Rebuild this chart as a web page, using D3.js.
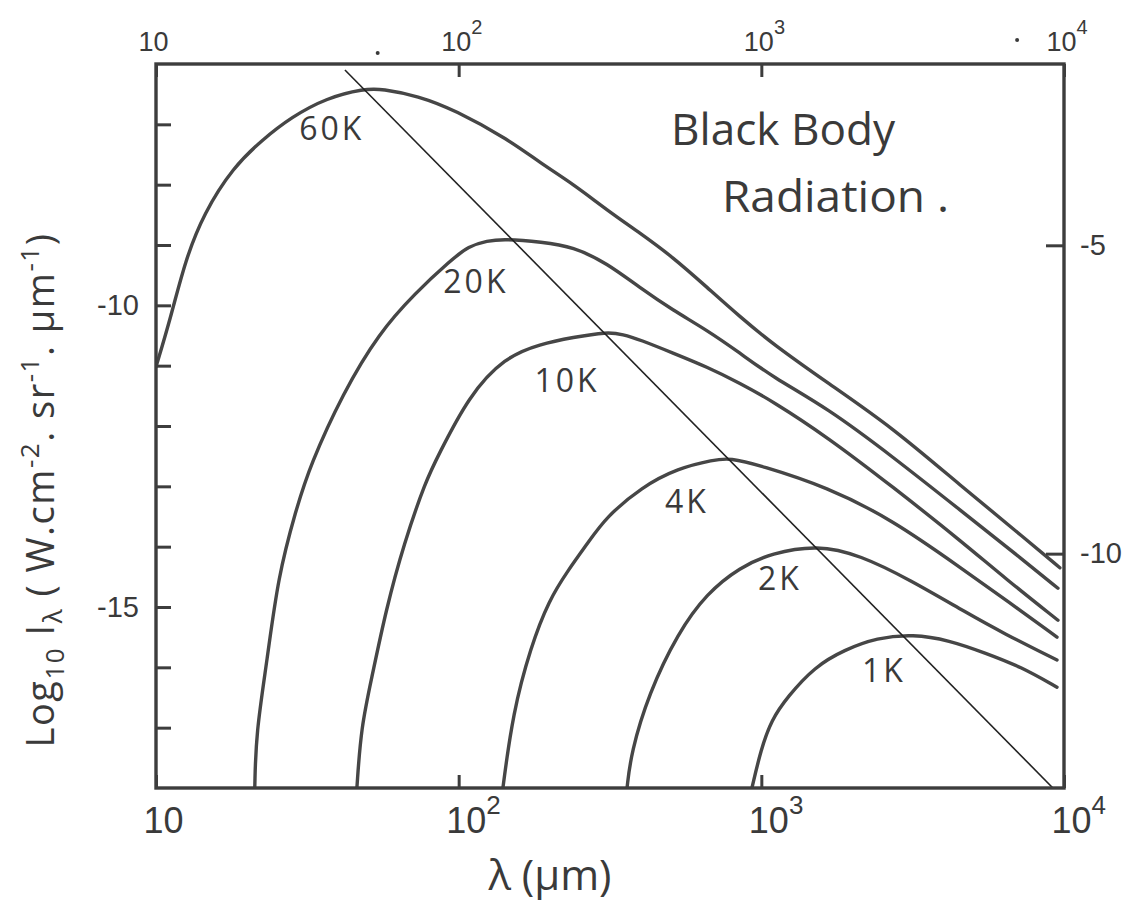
<!DOCTYPE html>
<html>
<head>
<meta charset="utf-8">
<script src="https://cdn.jsdelivr.net/npm/d3@7"></script>
<style>
body { margin: 0; background: #fff; }
svg { display: block; font-family: "Open Sans", "DejaVu Sans", sans-serif; }
.curve { fill: none; stroke: #464646; stroke-width: 3.4; stroke-linecap: round; stroke-linejoin: round; }
.wien { fill: none; stroke: #222; stroke-width: 1.6; }
.frame { fill: none; stroke: #3d3d3d; stroke-width: 3.4; }
.axis path.domain { display: none; }
.axis line { stroke: #3d3d3d; stroke-width: 3; }
.axis text { fill: #3a3a3a; }
.lbl { fill: #3a3a3a; }
</style>
</head>
<body>
<div id="chart"></div>
<script>
// wavelength in um, log10 intensity (left scale)
var temps = ["60K", "20K", "10K", "4K", "2K", "1K"];

var lam60 = [10, 11.2, 12.5, 14.4, 18, 22.4, 28, 36.7, 48.7, 55.8, 73.4, 97, 147, 186, 239, 309, 397, 510, 661, 850, 1090, 1650, 2720, 4530, 7540, 9690];
var log60 = [-11.02, -10.19, -9.25, -8.47, -7.71, -7.26, -6.88, -6.56, -6.41, -6.41, -6.53, -6.76, -7.26, -7.64, -7.99, -8.42, -8.80, -9.20, -9.70, -10.19, -10.64, -11.28, -12.03, -12.98, -13.89, -14.35];

var lam20 = [21.2, 21.4, 23.3, 25.3, 29.0, 32.3, 41.5, 54.5, 71.7, 94.3, 108, 124, 142, 188, 239, 309, 397, 510, 661, 850, 1090, 1650, 2720, 4530, 7540, 9550];
var log20 = [-18, -17.09, -15.88, -14.50, -13.39, -12.65, -11.45, -10.46, -9.80, -9.25, -9.02, -8.93, -8.90, -8.95, -9.03, -9.30, -9.71, -10.08, -10.41, -10.79, -11.19, -11.70, -12.51, -13.39, -14.27, -14.69];

var lam10 = [46.1, 47.6, 51.7, 57.5, 66.0, 78.0, 85.4, 108, 142, 186, 239, 309, 349, 397, 510, 661, 850, 1090, 1650, 2720, 4530, 6480, 9550];
var log10v = [-18, -16.99, -16.16, -15.05, -13.94, -12.90, -12.50, -11.50, -10.86, -10.64, -10.53, -10.44, -10.48, -10.57, -10.79, -11.02, -11.29, -11.59, -12.18, -13.01, -13.89, -14.55, -15.22];

var lam4 = [140, 151, 173, 199, 230, 267, 307, 403, 530, 697, 788, 989, 1650, 2720, 4530, 6630, 9480];
var log4 = [-18, -16.76, -15.66, -14.88, -14.39, -13.94, -13.51, -13.01, -12.70, -12.56, -12.53, -12.65, -13.01, -13.56, -14.34, -14.93, -15.50];

var lam2 = [360, 371, 425, 530, 661, 850, 1080, 1530, 2120, 3100, 4780, 6280, 9480];
var log2 = [-18, -17.42, -16.43, -15.43, -14.77, -14.34, -14.11, -13.97, -14.14, -14.55, -15.10, -15.43, -15.88];

var lam1 = [931, 996, 1080, 1220, 1500, 1880, 2410, 3170, 4170, 5480, 7200, 9480];
var log1 = [-18, -17.37, -16.87, -16.49, -15.99, -15.71, -15.51, -15.45, -15.55, -15.76, -15.99, -16.33];

// peak line (Wien)
var wienLam = [42.1, 9190];
var wienLog = [-6.1, -18];

// where the temperature labels sit
var labelLam = [38.1, 114, 228, 568, 1152, 2542];
var labelLog = [-7.26, -9.80, -11.44, -13.44, -14.72, -16.24];

var xTicks = [10, 100, 1000, 10000];
var xExp = ["", "2", "3", "4"];
var topDots = [54, 7000];   // stray pencil dots above the frame
var leftTicks = [-7, -8, -9, -10, -11, -12, -13, -14, -15, -16, -17];
var leftLabels = [-10, -15];
var rightTicks = [-5, -10];

/////////////////////////////////////////////////////////////

function drawChart() {
	var svgWidth = 1138, svgHeight = 921;
	var pl = 156, pr = 1064, pt = 64, pb = 788;

	var svg = d3.select("#chart").append("svg")
		.attr("width", svgWidth)
		.attr("height", svgHeight);

	var x = d3.scaleLog().domain([10, 10000]).range([pl, pr]);
	var yL = d3.scaleLinear().domain([-18, -6]).range([pb, pt]);
	var yR = d3.scaleLinear().domain([-13.8, -2.06]).range([pb, pt]);

	svg.append("defs").append("clipPath").attr("id", "plot")
		.append("rect")
		.attr("x", pl).attr("y", pt)
		.attr("width", pr - pl).attr("height", pb - pt);

	var series = [
		[lam60, log60], [lam20, log20], [lam10, log10v],
		[lam4, log4], [lam2, log2], [lam1, log1]
	];

	var line = d3.line()
		.x(function(d) { return x(d[0]); })
		.y(function(d) { return yL(d[1]); })
		.curve(d3.curveBasis);

	var curves = svg.append("g").attr("clip-path", "url(#plot)");

	curves.selectAll("path.curve")
		.data(series)
		.enter().append("path")
		.attr("class", "curve")
		.attr("d", function(s) { return line(d3.zip(s[0], s[1])); });

	curves.append("path")
		.attr("class", "wien")
		.attr("d", d3.line()
			.x(function(d) { return x(d[0]); })
			.y(function(d) { return yL(d[1]); })(d3.zip(wienLam, wienLog)));

	// frame
	svg.append("rect")
		.attr("class", "frame")
		.attr("x", pl).attr("y", pt)
		.attr("width", pr - pl).attr("height", pb - pt);

	// bottom axis
	var gb = svg.append("g")
		.attr("class", "axis")
		.attr("transform", "translate(0," + pb + ")")
		.call(d3.axisBottom(x).tickValues(xTicks).tickSize(-13).tickPadding(19)
			.tickFormat(function() { return "10"; }));
	gb.selectAll(".tick text")
		.attr("font-size", 36)
		.attr("text-anchor", "start")
		.attr("dx", -13)
		.each(function(d, i) {
			if (xExp[i]) d3.select(this).append("tspan").attr("dy", -19).attr("font-size", 26).text(xExp[i]);
		});

	// top axis
	var gt = svg.append("g")
		.attr("class", "axis")
		.attr("transform", "translate(0," + pt + ")")
		.call(d3.axisTop(x).tickValues(xTicks).tickSize(-13).tickPadding(13)
			.tickFormat(function() { return "10"; }));
	gt.selectAll(".tick text")
		.attr("font-size", 27)
		.attr("text-anchor", "start")
		.attr("dx", -18)
		.each(function(d, i) {
			if (xExp[i]) d3.select(this).append("tspan").attr("dy", -17).attr("font-size", 20).text(xExp[i]);
		});
	gt.selectAll("circle.dot")
		.data(topDots)
		.enter().append("circle")
		.attr("class", "dot")
		.attr("cx", function(d) { return x(d); })
		.attr("cy", function(d, i) { return i ? -24 : -11; })
		.attr("r", 2)
		.attr("fill", "#3a3a3a");

	// left axis
	svg.append("g")
		.attr("class", "axis")
		.attr("transform", "translate(" + pl + ",0)")
		.call(d3.axisLeft(yL).tickValues(leftTicks).tickSize(-15).tickPadding(17)
			.tickFormat(function(d) { return leftLabels.indexOf(d) >= 0 ? String(d) : ""; }))
		.selectAll(".tick text")
		.attr("font-size", 29);

	// right axis
	svg.append("g")
		.attr("class", "axis")
		.attr("transform", "translate(" + pr + ",0)")
		.call(d3.axisRight(yR).tickValues(rightTicks).tickSize(-18).tickPadding(16)
			.tickFormat(function(d) { return String(d); }))
		.selectAll(".tick text")
		.attr("font-size", 29);

	// temperature labels
	svg.selectAll("text.temp")
		.data(temps)
		.enter().append("text")
		.attr("class", "lbl temp")
		.attr("x", function(d, i) { return x(labelLam[i]); })
		.attr("y", function(d, i) { return yL(labelLog[i]); })
		.attr("text-anchor", "middle")
		.attr("font-size", 32)
		.attr("letter-spacing", 3)
		.text(function(d) { return d; });

	// title
	svg.append("text").attr("class", "lbl")
		.attr("x", 671).attr("y", 145)
		.attr("font-size", 44).attr("textLength", 224).attr("lengthAdjust", "spacingAndGlyphs")
		.text("Black Body");
	svg.append("text").attr("class", "lbl")
		.attr("x", 722).attr("y", 212)
		.attr("font-size", 44).attr("textLength", 227).attr("lengthAdjust", "spacingAndGlyphs")
		.text("Radiation .");

	// axis titles
	svg.append("text").attr("class", "lbl")
		.attr("x", 550).attr("y", 890)
		.attr("text-anchor", "middle")
		.attr("font-size", 42)
		.text("λ (μm)");

	var yTitle = svg.append("text").attr("class", "lbl")
		.attr("transform", "translate(54,490) rotate(-90)")
		.attr("text-anchor", "middle")
		.attr("letter-spacing", 1.5)
		.attr("font-size", 38);
	var pieces = [["Log", 0], ["10", 10], [" I", 0], ["λ", 8], ["  ( W.cm", 0], ["-2", -15],
		[". sr", 0], ["-1", -15], [". μm", 0], ["-1", -15], [")", 0]];
	var prev = 0;
	pieces.forEach(function(p) {
		yTitle.append("tspan")
			.attr("dy", p[1] - prev)
			.attr("font-size", p[1] ? 26 : 38)
			.text(p[0]);
		prev = p[1];
	});
}

drawChart();
</script>
</body>
</html>
